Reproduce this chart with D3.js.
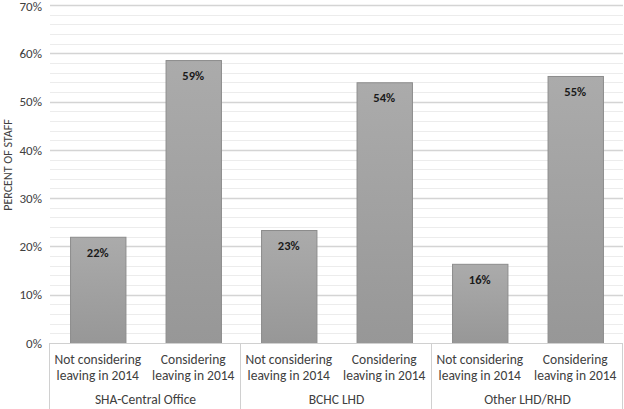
<!DOCTYPE html>
<html><head><meta charset="utf-8">
<script src="https://cdn.jsdelivr.net/npm/d3@7"></script>
<style>body{margin:0;background:#fff}svg{display:block;font-family:Carlito,"Open Sans","Liberation Sans",sans-serif}</style>
</head><body><svg id="c" width="624" height="409"></svg>
<script>
const groups = ["SHA-Central Office", "BCHC LHD", "Other LHD/RHD"];
const subCategories = ["Not considering leaving in 2014", "Considering leaving in 2014"];
const values = [22, 58.6, 23.4, 54, 16.4, 55.3];
const valueLabels = ["22%", "59%", "23%", "54%", "16%", "55%"];
const yTicks = [0, 10, 20, 30, 40, 50, 60, 70];
const yTitle = "PERCENT OF STAFF";

const svg = d3.select("#c");
const m = {l: 50, r: 1, t: 5, b: 66};
const W = 624, H = 409;
const x0 = m.l, x1 = W - m.r, yTop = m.t, yBot = H - m.b;
const FONT = "Carlito,'Open Sans','Liberation Sans',sans-serif";

const bars = [];
groups.forEach((g, gi) => subCategories.forEach((s, si) => bars.push({g, s, i: gi * 2 + si})));

const x = d3.scaleBand().domain(bars.map(d => d.i)).range([x0, x1]).paddingInner(0.42).paddingOuter(0.21);
const y = d3.scaleLinear().domain([0, 70]).range([yBot, yTop]);

const defs = svg.append("defs");
const grad = defs.append("linearGradient").attr("id", "bg").attr("x1", 0).attr("x2", 0).attr("y1", 0).attr("y2", 1);
grad.append("stop").attr("offset", "0%").attr("stop-color", "#ababab");
grad.append("stop").attr("offset", "100%").attr("stop-color", "#979797");

// minor grid
svg.append("g").selectAll("line").data(d3.range(2, 70, 2).filter(v => v % 10 !== 0)).join("line")
  .attr("x1", x0).attr("x2", x1).attr("y1", d => Math.round(y(d)) + 0.5).attr("y2", d => Math.round(y(d)) + 0.5)
  .attr("stroke", "#ececec").attr("stroke-width", 1);
// major grid
svg.append("g").selectAll("line").data(yTicks.filter(v => v > 0)).join("line")
  .attr("x1", x0).attr("x2", x1).attr("y1", d => Math.round(y(d)) + 0.5).attr("y2", d => Math.round(y(d)) + 0.5)
  .attr("stroke", "#d4d4d4").attr("stroke-width", 1.3);

// y axis labels
const yAxis = d3.axisLeft(y).tickValues(yTicks).tickFormat(d => d + "%").tickSize(0).tickPadding(8);
const ya = svg.append("g").attr("transform", `translate(${x0},0)`).call(yAxis);
ya.select(".domain").remove();
ya.selectAll("text").attr("font-size", 13).attr("fill", "#404040").attr("font-family", FONT)
  .attr("dy", d => d === 70 ? "0.42em" : "0.32em");

// bars
svg.append("g").selectAll("rect").data(bars).join("rect")
  .attr("x", d => x(d.i) + 0.5).attr("width", x.bandwidth())
  .attr("y", d => y(values[d.i]) + 0.5).attr("height", d => yBot - y(values[d.i]))
  .attr("fill", "url(#bg)").attr("stroke", "#8c8c8c").attr("stroke-width", 1);

// value labels
svg.append("g").selectAll("text").data(bars).join("text")
  .attr("x", d => x(d.i) + x.bandwidth() / 2).attr("y", d => y(values[d.i]) + 20)
  .attr("text-anchor", "middle").attr("font-size", 12.5).attr("font-weight", "bold").attr("fill", "#1a1a1a")
  .text(d => valueLabels[d.i]);

// category axis
svg.append("line").attr("x1", x0).attr("x2", x1).attr("y1", yBot + 0.5).attr("y2", yBot + 0.5).attr("stroke", "#d0d0d0");
const gw = (x1 - x0) / groups.length;
const sep = d3.range(groups.length + 1).map(i => x0 + i * gw);
svg.append("g").selectAll("line").data(sep).join("line")
  .attr("x1", d => Math.round(d) - 0.5).attr("x2", d => Math.round(d) - 0.5)
  .attr("y1", yBot).attr("y2", H).attr("stroke", "#d0d0d0");

const lbl = svg.append("g").attr("font-size", 13.5).attr("fill", "#404040");
bars.forEach(d => {
  const cx = x(d.i) + x.bandwidth() / 2;
  const line1 = d.s.replace(/ leaving in 2014$/, "");
  lbl.append("text").attr("x", cx).attr("y", 364).attr("text-anchor", "middle").text(line1);
  lbl.append("text").attr("x", cx).attr("y", 380).attr("text-anchor", "middle").text("leaving in 2014");
});
groups.forEach((g, gi) => {
  lbl.append("text").attr("x", x0 + gi * gw + gw / 2).attr("y", 404).attr("text-anchor", "middle").text(g);
});

// y title
svg.append("text").attr("transform", `translate(12,165) rotate(-90)`)
  .attr("text-anchor", "middle").attr("font-size", 12).attr("fill", "#404040").text(yTitle);
</script></body></html>
